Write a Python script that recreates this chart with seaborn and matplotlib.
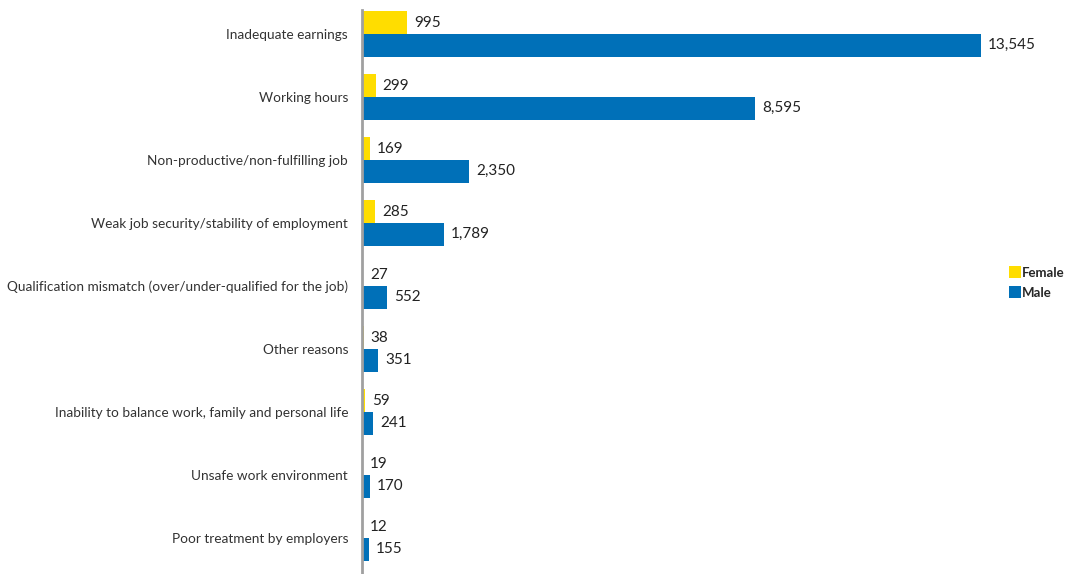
import matplotlib
matplotlib.use("Agg")
import matplotlib.pyplot as plt
import seaborn as sns
import pandas as pd
from matplotlib.lines import Line2D

categories = [
    "Inadequate earnings",
    "Working hours",
    "Non-productive/non-fulfilling job",
    "Weak job security/stability of employment",
    "Qualification mismatch (over/under-qualified for the job)",
    "Other reasons",
    "Inability to balance work, family and personal life",
    "Unsafe work environment",
    "Poor treatment by employers",
]
female = [995, 299, 169, 285, 27, 38, 59, 19, 12]
male = [13545, 8595, 2350, 1789, 552, 351, 241, 170, 155]
series = ["Female", "Male"]
colors = {"Female": "#FFDD00", "Male": "#0070B8"}

df = pd.DataFrame({
    "reason": categories * 2,
    "value": female + male,
    "sex": ["Female"] * len(categories) + ["Male"] * len(categories),
})

sns.set_theme(style="white")
plt.rcParams["font.family"] = ["Lato", "DejaVu Sans"]

fig = plt.figure(figsize=(10.68, 5.74), dpi=100)
ax = fig.add_axes([362 / 1068, 0.0, (1025 - 362) / 1068, 1 - 10 / 574])

sns.barplot(data=df, y="reason", x="value", hue="sex", hue_order=series,
            palette=colors, orient="h", width=0.72, ax=ax, legend=False,
            saturation=1, linewidth=0)

for cont in ax.containers:
    ax.bar_label(cont, labels=[f"{v:,.0f}" for v in cont.datavalues],
                 padding=5, fontsize=11, color="#222222")

ax.set_xlim(0, 14500)
ax.set_ylim(8.57, -0.38)
ax.set_xlabel("")
ax.set_ylabel("")
ax.set_xticks([])
ax.tick_params(axis="y", length=0, pad=10, labelsize=9.8, labelcolor="#333333")
for s in ["top", "right", "bottom"]:
    ax.spines[s].set_visible(False)
ax.spines["left"].set_color("#A0A0A0")
ax.spines["left"].set_linewidth(2)

handles = [Line2D([0], [0], marker="s", linestyle="", markersize=8,
                  markerfacecolor=colors[s], markeredgewidth=0) for s in series]
leg = fig.legend(handles, series, loc="center left", bbox_to_anchor=(997 / 1068, 1 - 283 / 574),
                 frameon=False, handletextpad=0.0, labelspacing=0.6,
                 prop={"weight": "bold", "size": 9.5}, handlelength=1.0)

fig.savefig("out.png", dpi=100)
